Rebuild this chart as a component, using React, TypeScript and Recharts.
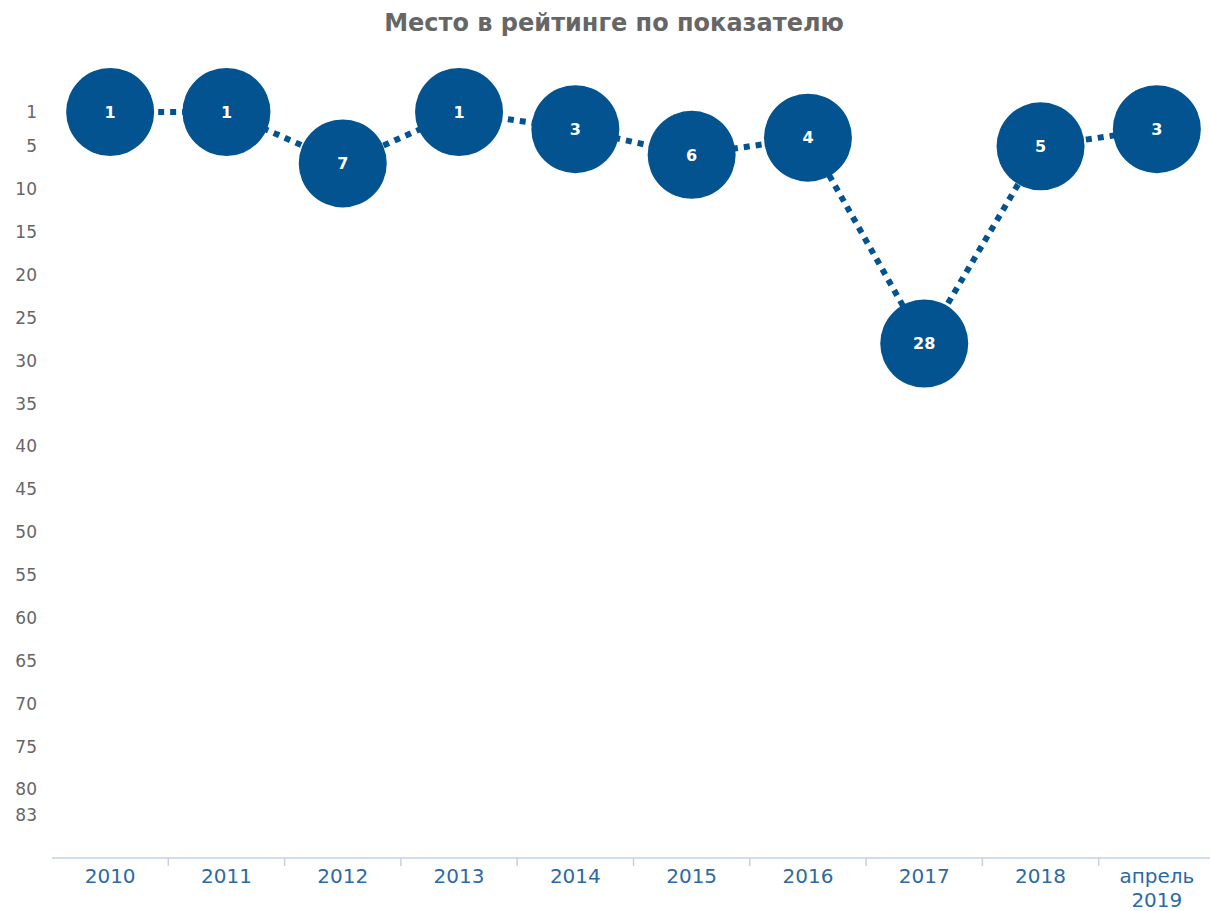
import { ComposedChart, Line, XAxis, YAxis } from 'recharts';

const years = ['2010', '2011', '2012', '2013', '2014', '2015', '2016', '2017', '2018', 'апрель 2019'];
const places = [1, 1, 7, 1, 3, 6, 4, 28, 5, 3];
const yTicks = [1, 5, 10, 15, 20, 25, 30, 35, 40, 45, 50, 55, 60, 65, 70, 75, 80, 83];

const data = years.map((year, i) => ({ year, place: places[i] }));

const BLUE = '#02538f';
const FONT = '"DejaVu Sans", Verdana, sans-serif';

function PlaceDot(props: any) {
  const { cx, cy, value } = props;
  return (
    <g>
      <circle cx={cx} cy={cy} r={44} fill={BLUE} />
      <text
        x={cx}
        y={cy}
        dy="0.36em"
        textAnchor="middle"
        fill="#ffffff"
        fontSize={16}
        fontWeight="bold"
        fontFamily={FONT}
      >
        {value}
      </text>
    </g>
  );
}

function YearTick(props: any) {
  const { x, y, payload, index, width, visibleTicksCount } = props;
  const half = width / visibleTicksCount / 2;
  const lines = String(payload.value).split(' ');
  return (
    <g>
      {index > 0 && (
        <line x1={x - half} x2={x - half} y1={y} y2={y + 8} stroke="#c2d2e2" strokeWidth={1.5} />
      )}
      <text x={x} y={y + 18} textAnchor="middle" fill="#2c6aa5" fontSize={20} fontFamily={FONT}>
        {lines.map((l, i) => (
          <tspan key={i} x={x} dy={i === 0 ? '0.36em' : 24}>
            {l}
          </tspan>
        ))}
      </text>
    </g>
  );
}

export default function App() {
  return (
    <div
      style={{
        position: 'absolute',
        left: 0,
        top: 0,
        width: 1210,
        height: 911,
        overflow: 'hidden',
        background: '#fff',
      }}
    >
      <div
        style={{
          position: 'absolute',
          left: 0,
          top: 9,
          width: 1228,
          textAlign: 'center',
          fontFamily: FONT,
          fontWeight: 'bold',
          fontSize: 24,
          color: '#666666',
        }}
      >
        Место в рейтинге по показателю
      </div>
      <ComposedChart width={1215} height={911} data={data} margin={{ top: 112, right: 0, bottom: 0, left: 0 }}>
        <XAxis
          dataKey="year"
          scale="band"
          height={53}
          interval={0}
          tickSize={0}
          tickMargin={0}
          tickLine={false}
          axisLine={{ stroke: '#c2d2e2', strokeWidth: 1.5 }}
          tick={<YearTick />}
        />
        <YAxis
          width={52}
          reversed
          domain={[1, 88]}
          type="number"
          ticks={yTicks}
          interval={0}
          axisLine={false}
          tickLine={false}
          tickSize={0}
          tickMargin={15}
          tick={{ fill: '#666666', fontSize: 17, fontFamily: FONT }}
        />
        <Line
          dataKey="place"
          stroke={BLUE}
          strokeWidth={6}
          strokeDasharray="6 6"
          fill="none"
          dot={<PlaceDot />}
          activeDot={false}
          isAnimationActive={false}
        />
      </ComposedChart>
    </div>
  );
}
